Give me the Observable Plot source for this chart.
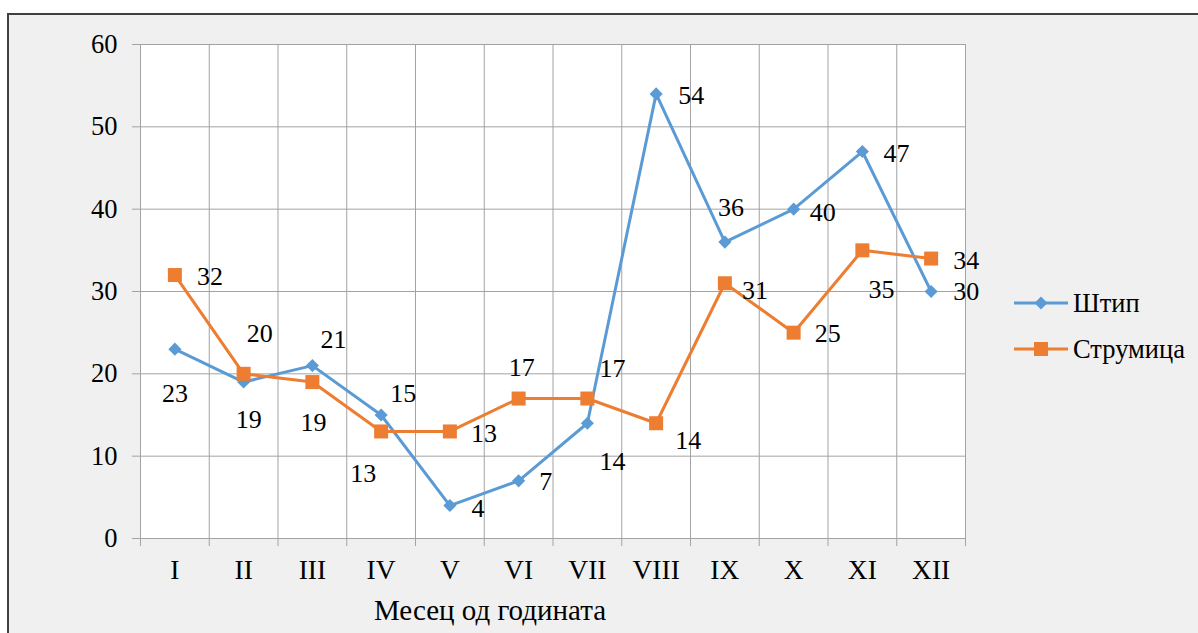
<!DOCTYPE html>
<html>
<head>
<meta charset="utf-8">
<script src="https://cdn.jsdelivr.net/npm/d3@7"></script>
<script src="https://cdn.jsdelivr.net/npm/@observablehq/plot@0.6"></script>
<style>
  html, body { margin: 0; padding: 0; background: #ffffff; }
  #wrap { position: relative; width: 1198px; height: 633px; overflow: hidden; font-family: "Liberation Serif", "Times New Roman", serif; }
  #panel { position: absolute; left: 7px; top: 13px; width: 1191px; height: 620px; background: #f0f0f0; border-left: 2px solid #404040; border-top: 2px solid #404040; box-sizing: border-box; }
  #chart { position: absolute; left: 0; top: 0; }
  #chart svg text { font-family: "Liberation Serif", "Times New Roman", serif !important; font-variant-numeric: normal !important; }
  .leg { position: absolute; display: flex; align-items: center; height: 28px; font-family: "Liberation Serif", serif; font-size: 26.5px; color: #000; white-space: nowrap; }
  .leg svg { display: block; margin-right: 5px; }
</style>
</head>
<body>
<div id="wrap">
  <div id="panel"></div>
  <div id="chart"></div>
  <div id="legend"></div>
</div>
<script>
// ---- data ----
const months = ["I", "II", "III", "IV", "V", "VI", "VII", "VIII", "IX", "X", "XI", "XII"];
const shtip = [23, 19, 21, 15, 4, 7, 14, 54, 36, 40, 47, 30];
const strumica = [32, 20, 19, 13, 13, 17, 17, 14, 31, 25, 35, 34];
const yTicks = [0, 10, 20, 30, 40, 50, 60];
const seriesNames = ["Штип", "Струмица"];
const axisTitle = "Месец од годината";

// ---- layout (label placement offsets in px, not data) ----
const shtipLabelOffsets = [[0, 45], [5, 38], [21, -26], [22, -21], [28, 3], [27, 1], [25, 38], [35, 2], [6, -34], [29, 4], [34, 2], [35, 0]];
const strumicaLabelOffsets = [[35, 2], [16, -40], [1, 41], [-18, 42], [34, 2], [3, -31], [25, -30], [32, 17], [30, 7], [34, 1], [19, 39], [35, 2]];
const colors = ["#5b9bd5", "#ed7d31"];
const gridColor = "#a3a3a3";
const serif = "Liberation Serif";

const rows = months.map((m, i) => ({i, month: m, shtip: shtip[i], strumica: strumica[i]}));
const boundaries = d3.range(months.length + 1).map(k => k - 0.5);

const labelMarks = [];
[["shtip", shtipLabelOffsets], ["strumica", strumicaLabelOffsets]].forEach(([key, offs]) => {
  rows.forEach((r, i) => {
    labelMarks.push(Plot.text([r], {
      x: "i", y: key, text: d => String(d[key]),
      dx: offs[i][0], dy: offs[i][1],
      fill: "#000", fontSize: 26, fontFamily: serif, lineAnchor: "middle", textAnchor: "middle"
    }));
  });
});

const chart = Plot.plot({
  width: 1198,
  height: 633,
  marginLeft: 140,
  marginRight: 233,
  marginTop: 44,
  marginBottom: 95,
  style: {background: "transparent", fontFamily: "'Liberation Serif', 'Times New Roman', serif", fontSize: "26px", overflow: "visible", color: "#000"},
  x: {type: "linear", domain: [-0.5, months.length - 0.5]},
  y: {domain: [0, 60]},
  marks: [
    Plot.frame({fill: "#ffffff", stroke: null}),
    Plot.gridY(yTicks, {stroke: gridColor, strokeOpacity: 1}),
    Plot.gridX(boundaries, {stroke: gridColor, strokeOpacity: 1}),
    Plot.axisY(yTicks, {tickSize: 8, tickPadding: 15, stroke: gridColor, fill: "#000", fontSize: 26.5, fontFamily: serif, label: null}),
    Plot.axisX(boundaries, {tickSize: 8, tickFormat: () => "", stroke: gridColor, label: null}),
    Plot.axisX(d3.range(months.length), {tickSize: 0, tickPadding: 21, tickFormat: i => months[i], fill: "#000", fontSize: 27.5, fontFamily: serif, label: null}),
    Plot.line(rows, {x: "i", y: "shtip", stroke: colors[0], strokeWidth: 3}),
    Plot.line(rows, {x: "i", y: "strumica", stroke: colors[1], strokeWidth: 3}),
    Plot.dot(rows, {x: "i", y: "shtip", symbol: "diamond2", r: 5.9, fill: colors[0], stroke: null}),
    Plot.dot(rows, {x: "i", y: "strumica", symbol: "square", r: 7.9, fill: colors[1], stroke: null}),
    ...labelMarks,
    Plot.text([axisTitle], {frameAnchor: "bottom", dx: -63, dy: 72, fill: "#000", fontSize: 29, fontFamily: serif, lineAnchor: "middle"})
  ]
});
document.getElementById("chart").appendChild(chart);

// ---- legend ----
const legend = document.getElementById("legend");
const legendTops = [289, 335];
seriesNames.forEach((name, k) => {
  const item = document.createElement("div");
  item.className = "leg";
  item.style.left = "1014px";
  item.style.top = legendTops[k] + "px";
  const marker = k === 0
    ? `<polygon points="27,7.5 33.5,14 27,20.5 20.5,14" fill="${colors[0]}"/>`
    : `<rect x="20" y="7" width="14" height="14" fill="${colors[1]}"/>`;
  item.innerHTML = `<svg width="54" height="28"><line x1="0" x2="54" y1="14" y2="14" stroke="${colors[k]}" stroke-width="3"/>${marker}</svg><span>${name}</span>`;
  legend.appendChild(item);
});
</script>
</body>
</html>
